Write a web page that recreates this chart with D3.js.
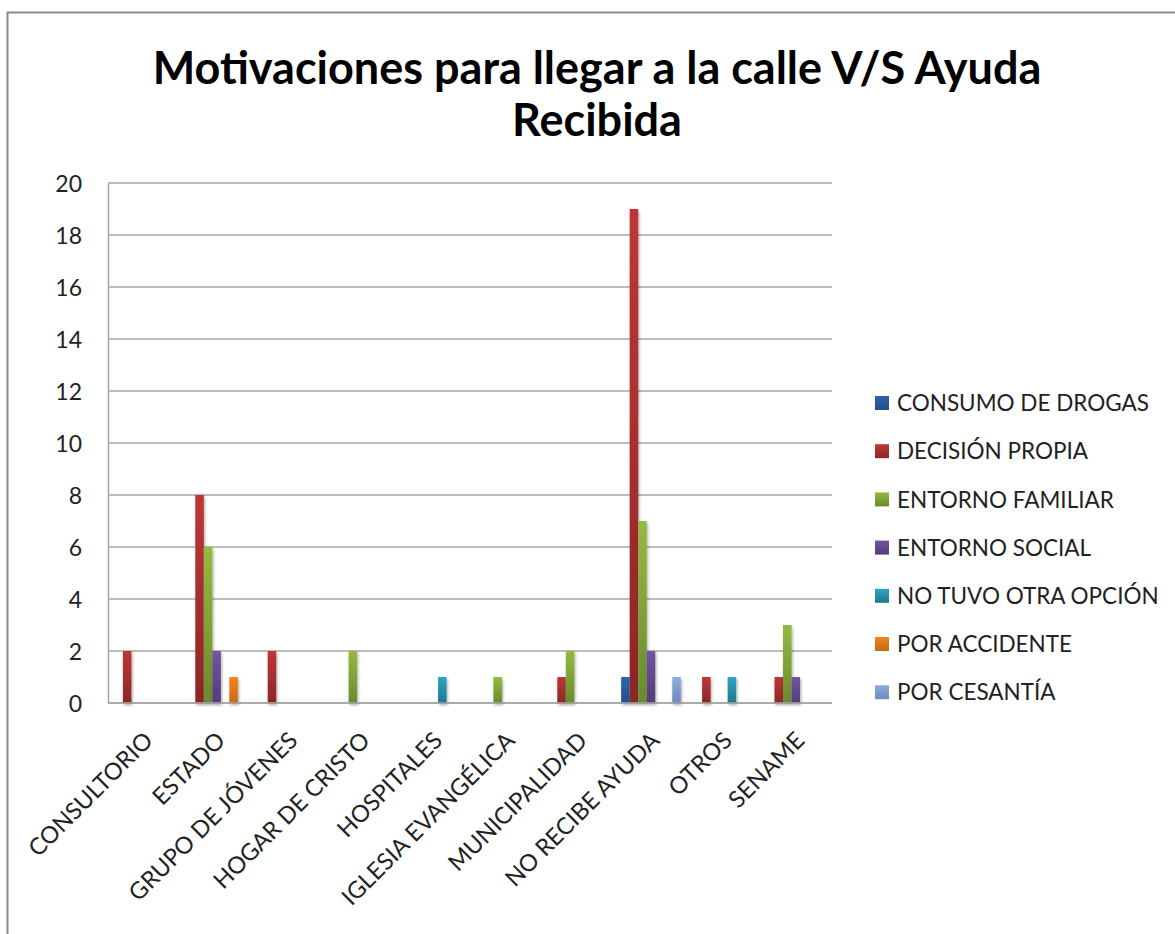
<!DOCTYPE html>
<html><head><meta charset="utf-8">
<script src="https://cdn.jsdelivr.net/npm/d3@7"></script>
<style>body{margin:0;background:#fff;}svg{display:block;}</style>
</head><body>
<svg id="c" width="1175" height="934"></svg>
<script>
const categories = ["CONSULTORIO","ESTADO","GRUPO DE JÓVENES","HOGAR DE CRISTO","HOSPITALES","IGLESIA EVANGÉLICA","MUNICIPALIDAD","NO RECIBE AYUDA","OTROS","SENAME"];
const seriesNames = ["CONSUMO DE DROGAS","DECISIÓN PROPIA","ENTORNO FAMILIAR","ENTORNO SOCIAL","NO TUVO OTRA OPCIÓN","POR ACCIDENTE","POR CESANTÍA"];
const consumoDrogas   = [0,0,0,0,0,0,0,1,0,0];
const decisionPropia  = [2,8,2,0,0,0,1,19,1,1];
const entornoFamiliar = [0,6,0,2,0,1,2,7,0,3];
const entornoSocial   = [0,2,0,0,0,0,0,2,0,1];
const noTuvoOtra      = [0,0,0,0,1,0,0,0,1,0];
const porAccidente    = [0,1,0,0,0,0,0,0,0,0];
const porCesantia     = [0,0,0,0,0,0,0,1,0,0];
const seriesValues = [consumoDrogas,decisionPropia,entornoFamiliar,entornoSocial,noTuvoOtra,porAccidente,porCesantia];
const yTicks = [0,2,4,6,8,10,12,14,16,18,20];
const titleLines = ["Motivaciones para llegar a la calle V/S Ayuda","Recibida"];

const colorsTop = ["#2D64AE","#BF3636","#94BA40","#7353A2","#2FA4C2","#F2851F","#8FACDC"];
const colorsBot = ["#214F8C","#8C2727","#698A2E","#533C7A","#1F778F","#C76914","#6E8ABC"];

const svg = d3.select("#c");
const font = "Lato, 'Open Sans', sans-serif";

// chart border
svg.append("rect").attr("x",7.5).attr("y",12.5).attr("width",1200).attr("height",1000)
  .attr("fill","#fff").attr("stroke","#898989").attr("stroke-width",2);

const L=108, R=832, T=183, B=703;
const x0 = d3.scaleBand().domain(categories).range([L,R]).paddingInner(0).paddingOuter(0);
const x1 = d3.scaleBand().domain(seriesNames).range([0,x0.bandwidth()]).paddingInner(0).paddingOuter(0.75);
const y = d3.scaleLinear().domain([0,20]).range([B,T]);

const defs = svg.append("defs");
seriesNames.forEach((s,i)=>{
  const g = defs.append("linearGradient").attr("id","g"+i).attr("x1",0).attr("y1",0).attr("x2",0).attr("y2",1);
  g.append("stop").attr("offset","0%").attr("stop-color",colorsTop[i]);
  g.append("stop").attr("offset","100%").attr("stop-color",colorsBot[i]);
});
const f = defs.append("filter").attr("id","sh").attr("x","-50%").attr("y","-10%").attr("width","200%").attr("height","130%");
f.append("feDropShadow").attr("dx",1).attr("dy",2).attr("stdDeviation",1.6).attr("flood-color","#000").attr("flood-opacity",0.35);

// title
svg.append("g").selectAll("text").data(titleLines).join("text")
  .attr("x",597).attr("y",(d,i)=>84+i*52)
  .attr("text-anchor","middle").attr("font-family",font).attr("font-weight","bold")
  .attr("font-size",45).attr("fill","#000").text(d=>d);

// gridlines
svg.append("g").selectAll("line").data(yTicks).join("line")
  .attr("x1",L).attr("x2",R).attr("y1",d=>y(d)).attr("y2",d=>y(d))
  .attr("stroke","#A6A6A6").attr("stroke-width",1.5);

// y axis
const yAxis = d3.axisLeft(y).tickValues(yTicks).tickSize(0).tickPadding(26);
const ya = svg.append("g").attr("transform",`translate(${L},0)`).call(yAxis);
ya.select(".domain").attr("stroke","#A6A6A6").attr("stroke-width",1.5);
ya.selectAll("text").attr("font-family",font).attr("font-size",23).attr("fill","#222").attr("dy","0.36em");

// bars
const rows = [];
categories.forEach((c,ci)=>seriesNames.forEach((s,si)=>rows.push({c,s,si,v:seriesValues[si][ci]})));
svg.append("g").selectAll("rect").data(rows.filter(d=>d.v>0)).join("rect")
  .attr("x",d=>x0(d.c)+x1(d.s)).attr("width",x1.bandwidth())
  .attr("y",d=>y(d.v)).attr("height",d=>y(0)-y(d.v))
  .attr("fill",d=>`url(#g${d.si})`).attr("filter","url(#sh)");

// x axis line on top
svg.append("line").attr("x1",L).attr("x2",R).attr("y1",B).attr("y2",B).attr("stroke","#A6A6A6").attr("stroke-width",1.5);

// x labels
const xAxis = d3.axisBottom(x0).tickSize(0).tickPadding(0);
const xa = svg.append("g").attr("transform",`translate(0,${B})`).call(xAxis);
xa.select(".domain").remove();
xa.selectAll("text").attr("font-family",font).attr("font-size",23.5).attr("fill","#222")
  .attr("text-anchor","end").attr("dy",0).attr("y",0)
  .attr("transform","translate(10,39) rotate(-45)");

// legend
const lg = svg.append("g").selectAll("g").data(seriesNames).join("g")
  .attr("transform",(d,i)=>`translate(875,${403+i*48.2})`);
lg.append("rect").attr("x",0).attr("y",-7).attr("width",14).attr("height",14).attr("fill",(d,i)=>`url(#g${i})`);
lg.append("text").attr("x",22).attr("y",0).attr("dy","0.36em").attr("font-family",font).attr("font-size",22.5)
  .attr("fill","#222").text(d=>d);
</script>
</body></html>
